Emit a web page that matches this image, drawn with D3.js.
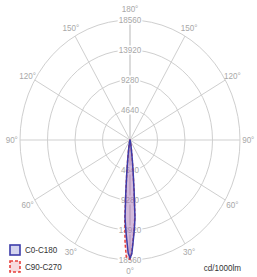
<!DOCTYPE html>
<html><head><meta charset="utf-8">
<script src="https://cdn.jsdelivr.net/npm/d3@7"></script>
<style>html,body{margin:0;padding:0;background:#fff;}svg{display:block;}</style>
</head><body>
<script>
// ---- data ----
const ringValues = [4640, 9280, 13920, 18560];
const ringLabels = ["4640", "9280", "13920", "18560"];
const spokeAngles = [0, 30, 60, 90, 120, 150, 180];
const angleLabels = ["0°", "30°", "60°", "90°", "120°", "150°", "180°"];
const gammas = [0, 1, 2, 3, 4, 5, 6, 7, 8, 9, 10, 12, 15, 20, 25, 30, 40, 50, 60, 70, 80, 90, 180];
const c0   = [18250, 17600, 15600, 13900, 12100, 8000, 5200, 3400, 2200, 1500, 1000, 600, 300, 150, 80, 50, 30, 20, 10, 5, 0, 0, 0];
const c180 = [18250, 17500, 15500, 13800, 12000, 8100, 5300, 3400, 2200, 1500, 1000, 600, 300, 150, 80, 50, 30, 20, 10, 5, 0, 0, 0];
const c90  = [18400, 17400, 15300, 13600, 11800, 7800, 5000, 3300, 2100, 1400, 950, 550, 280, 140, 75, 45, 28, 18, 9, 4, 0, 0, 0];
const c270 = [18450, 18300, 18050, 15900, 12600, 8200, 5300, 3400, 2200, 1500, 1000, 600, 300, 150, 80, 50, 30, 20, 10, 5, 0, 0, 0];
const seriesNames = ["C0-C180", "C90-C270"];
const unitLabel = "cd/1000lm";

// ---- layout ----
const W = 257, H = 277;
const cx = 130, cy = 140, R = 120, sx = 110 / 120;
const rScale = d3.scaleLinear().domain([0, 18560]).range([0, R]);
const toRad = d => d * Math.PI / 180;
const px = (r, g, side) => cx + side * sx * r * Math.sin(toRad(g));
const py = (r, g) => cy + r * Math.cos(toRad(g));

const svg = d3.select("body").append("svg").attr("width", W).attr("height", H);
const font = "'Liberation Sans', Arial, sans-serif";
function txt(x, y, s, fill, anchor) {
  return svg.append("text").attr("transform", `translate(${x},${y}) scale(0.9,1)`)
    .attr("text-anchor", anchor || "middle").attr("dy", "0.35em")
    .attr("font-family", font).attr("font-size", 9).attr("fill", fill).text(s);
}

// grid
const grid = svg.append("g").attr("stroke", "#cfcfcf").attr("fill", "none").attr("stroke-width", 1);
ringValues.forEach(v => {
  grid.append("ellipse").attr("cx", cx).attr("cy", cy).attr("rx", rScale(v) * sx).attr("ry", rScale(v));
});
spokeAngles.forEach(a => {
  [1, -1].forEach(side => {
    grid.append("line").attr("x1", cx).attr("y1", cy)
      .attr("x2", px(R, a, side)).attr("y2", py(R, a));
  });
});

// ring labels (top and bottom) with white background
ringValues.forEach((v, i) => {
  [180, 0].forEach(a => {
    const y = py(rScale(v), a);
    const t = txt(cx, y, ringLabels[i], "#a8a8a8");
    const bb = t.node().getBBox();
    const w = bb.width * 0.9 + 2;
    svg.insert("rect", "text").attr("x", cx - w / 2).attr("y", y - 4.5).attr("width", w).attr("height", 9).attr("fill", "#fff");
  });
});

// angle labels
spokeAngles.forEach((a, i) => {
  const sides = (a === 0 || a === 180) ? [1] : [-1, 1];
  const rr = (a === 0 || a === 180) ? 131 : 129;
  sides.forEach(side => txt(px(rr, a, side), py(rr, a), angleLabels[i], "#a8a8a8"));
});

// series paths
function pts(right, left) {
  const p = [];
  for (let i = gammas.length - 1; i >= 0; i--) p.push([px(rScale(left[i]), gammas[i], -1), py(rScale(left[i]), gammas[i])]);
  for (let i = 1; i < gammas.length; i++) p.push([px(rScale(right[i]), gammas[i], 1), py(rScale(right[i]), gammas[i])]);
  return p;
}
const line = d3.line().curve(d3.curveLinearClosed);
svg.append("path").attr("d", line(pts(c90, c270)))
  .attr("fill", "rgba(235,110,130,0.25)").attr("stroke", "#e8403c").attr("stroke-width", 1.5)
  .attr("stroke-dasharray", "3,2");
svg.append("path").attr("d", line(pts(c0, c180)))
  .attr("fill", "rgba(110,100,210,0.28)").attr("stroke", "#3c3caa").attr("stroke-width", 1.5);

// legend
svg.append("rect").attr("x", 10).attr("y", 245).attr("width", 10).attr("height", 10)
  .attr("fill", "#d4d4ef").attr("stroke", "#3c3caa").attr("stroke-width", 1.6);
svg.append("rect").attr("x", 10).attr("y", 261).attr("width", 10).attr("height", 11)
  .attr("fill", "#f7dadd").attr("stroke", "#e8403c").attr("stroke-width", 1.6).attr("stroke-dasharray", "3,2");
txt(25, 250, seriesNames[0], "#333", "start");
txt(25, 267, seriesNames[1], "#333", "start");
txt(241, 268, unitLabel, "#333", "end");
</script>
</body></html>
